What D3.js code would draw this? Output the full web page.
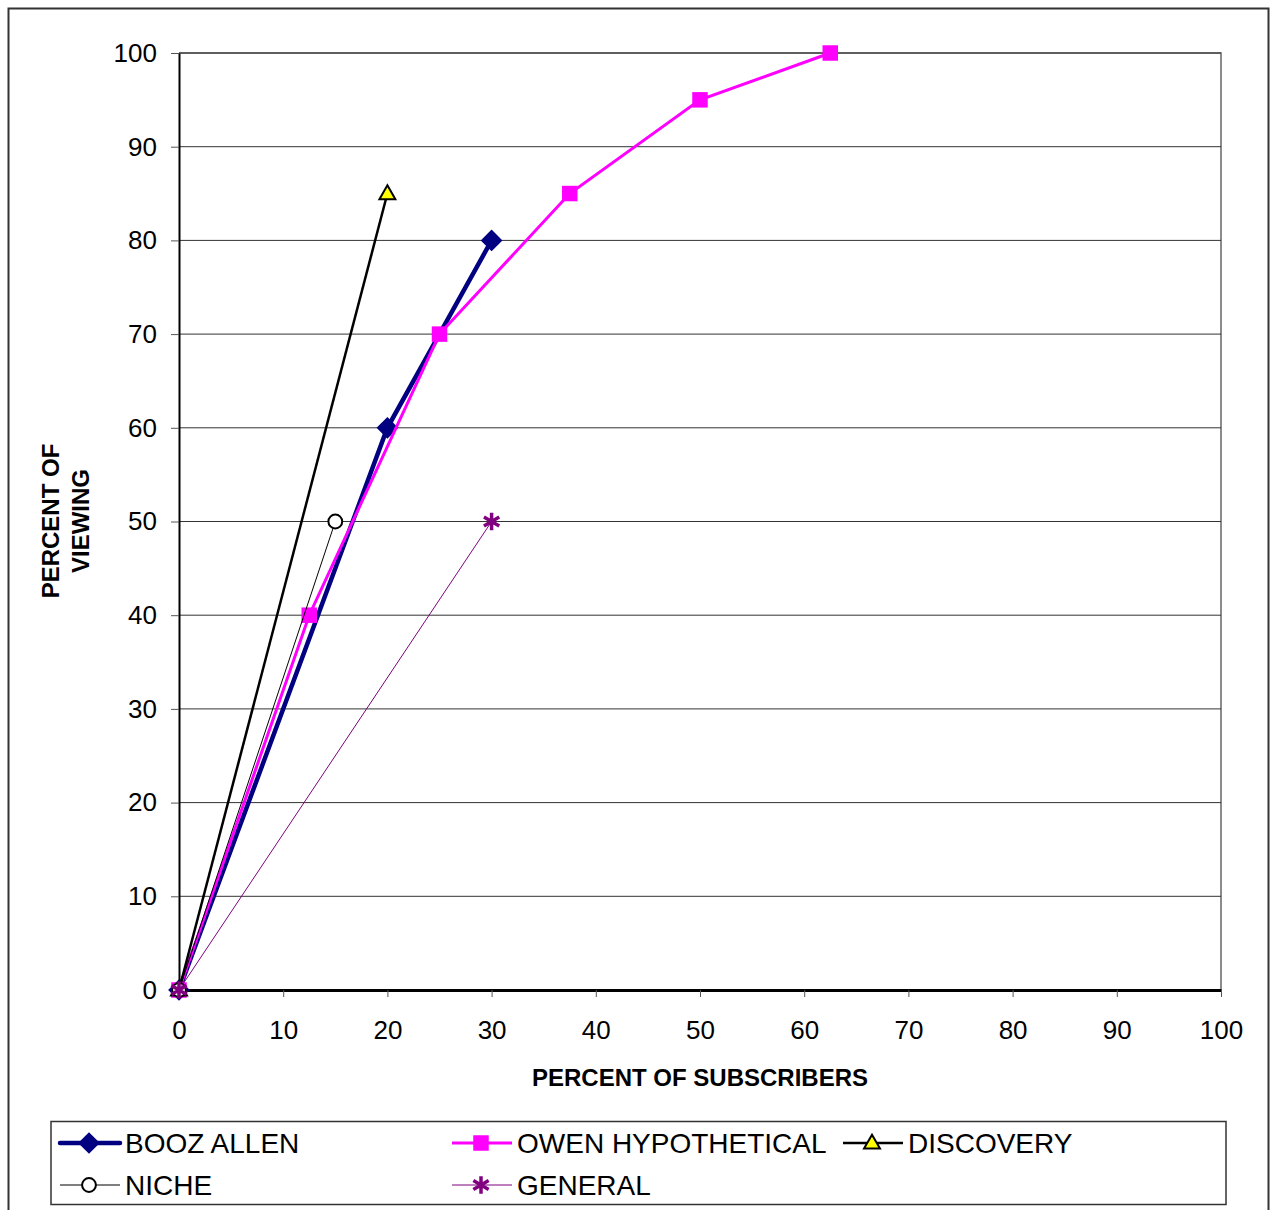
<!DOCTYPE html>
<html>
<head>
<meta charset="utf-8">
<script src="https://cdn.jsdelivr.net/npm/d3@7"></script>
<style>
  body { margin: 0; background: #fff; }
  text { font-family: "Liberation Sans", Arial, sans-serif; }
</style>
</head>
<body>
<svg id="chart" width="1270" height="1210"></svg>
<script>
// series data: [percent of subscribers, percent of viewing]
const boozAllen = [[0, 0], [20, 60], [30, 80]]
const owenHypothetical = [[0, 0], [12.5, 40], [25, 70], [37.5, 85], [50, 95], [62.5, 100]]
const discovery = [[0, 0], [20, 85]]
const niche = [[0, 0], [15, 50]]
const general = [[0, 0], [30, 50]]

const xTicks = [0, 10, 20, 30, 40, 50, 60, 70, 80, 90, 100]
const yTicks = [0, 10, 20, 30, 40, 50, 60, 70, 80, 90, 100]

const series = [
    { name: "BOOZ ALLEN", data: boozAllen, color: "#000080", width: 4.5, marker: "diamond" },
    { name: "OWEN HYPOTHETICAL", data: owenHypothetical, color: "#ff00ff", width: 3, marker: "square" },
    { name: "DISCOVERY", data: discovery, color: "#000000", width: 2.5, marker: "triangle" },
    { name: "NICHE", data: niche, color: "#000000", width: 1, marker: "circle" },
    { name: "GENERAL", data: general, color: "#800080", width: 1, marker: "star" }
]

const svg = d3.select("#chart")
const plot = { left: 179, right: 1221, top: 53, bottom: 990 }

// outer frame
svg.append("rect")
    .attr("x", 8.5).attr("y", 8.5)
    .attr("width", 1260).attr("height", 1210)
    .attr("fill", "none").attr("stroke", "#333").attr("stroke-width", 2)

const x = d3.scaleLinear().domain([0, 100]).range([plot.left, plot.right])
const y = d3.scaleLinear().domain([0, 100]).range([plot.bottom, plot.top])

// plot area border (top/right)
svg.append("path")
    .attr("d", `M${plot.left},${plot.top}H${plot.right}V${plot.bottom}`)
    .attr("fill", "none").attr("stroke", "#666").attr("stroke-width", 1.5)

// horizontal gridlines
svg.append("g")
    .selectAll("line")
    .data(yTicks.filter(d => d > 0))
    .enter().append("line")
    .attr("x1", plot.left).attr("x2", plot.right)
    .attr("y1", d => y(d)).attr("y2", d => y(d))
    .attr("stroke", "#333").attr("stroke-width", 1)

// y axis
const yAxis = svg.append("g")
    .attr("transform", `translate(${plot.left},0)`)
    .call(d3.axisLeft(y).tickValues(yTicks).tickSize(8).tickPadding(14).tickSizeOuter(0))
yAxis.select(".domain").attr("stroke", "#000").attr("stroke-width", 2)
yAxis.selectAll(".tick line").attr("stroke", "#555")
yAxis.selectAll("text").attr("font-size", 26).attr("fill", "#000")

// x axis
const xAxis = svg.append("g")
    .attr("transform", `translate(0,${plot.bottom})`)
    .call(d3.axisBottom(x).tickValues(xTicks).tickSize(7).tickPadding(24).tickSizeOuter(0))
xAxis.select(".domain").attr("stroke", "#000").attr("stroke-width", 3)
xAxis.selectAll(".tick line").attr("stroke", "#555")
xAxis.selectAll("text").attr("font-size", 26).attr("fill", "#000")

// axis titles
svg.append("text")
    .attr("x", 700).attr("y", 1086)
    .attr("text-anchor", "middle")
    .attr("font-size", 24).attr("font-weight", "bold")
    .text("PERCENT OF SUBSCRIBERS")

const yTitle = svg.append("text")
    .attr("transform", "translate(59,521) rotate(-90)")
    .attr("text-anchor", "middle")
    .attr("font-size", 24).attr("font-weight", "bold")
yTitle.append("tspan").attr("x", 0).attr("dy", 0).text("PERCENT OF")
yTitle.append("tspan").attr("x", 0).attr("dy", 30).text("VIEWING")

// markers
const symbols = {
    diamond: d3.symbol().type(d3.symbolDiamond2).size(300),
    square: d3.symbol().type(d3.symbolSquare).size(240),
    triangle: d3.symbol().type(d3.symbolTriangle).size(110),
    circle: d3.symbol().type(d3.symbolCircle).size(150),
    star: d3.symbol().type(d3.symbolAsterisk).size(220)
}

function markerStyle(sel, s) {
    if (s.marker === "triangle") {
        sel.attr("fill", "#ffff00").attr("stroke", "#000").attr("stroke-width", 2)
    } else if (s.marker === "circle") {
        sel.attr("fill", "#fff").attr("stroke", "#000").attr("stroke-width", 2)
    } else if (s.marker === "star") {
        sel.attr("fill", "none").attr("stroke", s.color).attr("stroke-width", 3.5)
    } else {
        sel.attr("fill", s.color).attr("stroke", "none")
    }
}

const line = d3.line().x(d => x(d[0])).y(d => y(d[1]))

series.forEach(s => {
    const g = svg.append("g")
    g.append("path")
        .attr("d", line(s.data))
        .attr("fill", "none")
        .attr("stroke", s.color)
        .attr("stroke-width", s.width)

    g.selectAll("path.marker")
        .data(s.data)
        .enter().append("path")
        .attr("class", "marker")
        .attr("d", symbols[s.marker])
        .attr("transform", d => `translate(${x(d[0])},${y(d[1]) + (s.marker === "triangle" ? 1 : 0)})`)
        .call(markerStyle, s)
})

// legend
svg.append("rect")
    .attr("x", 51).attr("y", 1121.5)
    .attr("width", 1175).attr("height", 83)
    .attr("fill", "#fff").attr("stroke", "#333").attr("stroke-width", 1.5)

const legendPos = [[60, 1143], [452, 1143], [843, 1143], [60, 1185], [452, 1185]]

const legend = svg.selectAll("g.legend")
    .data(series)
    .enter().append("g")
    .attr("class", "legend")
    .attr("transform", (d, i) => `translate(${legendPos[i][0]},${legendPos[i][1]})`)

legend.append("line")
    .attr("x1", 0).attr("x2", 60)
    .attr("stroke", d => d.color)
    .attr("stroke-width", d => d.width)
    .attr("stroke-linecap", d => d.width > 4 ? "round" : "butt")

legend.append("path")
    .attr("d", d => symbols[d.marker]())
    .attr("transform", d => `translate(29,${d.marker === "triangle" ? 1 : 0})`)
    .each(function (d) { d3.select(this).call(markerStyle, d) })

legend.append("text")
    .attr("x", 65).attr("y", 10)
    .attr("font-size", 28)
    .text(d => d.name)
</script>
</body>
</html>
